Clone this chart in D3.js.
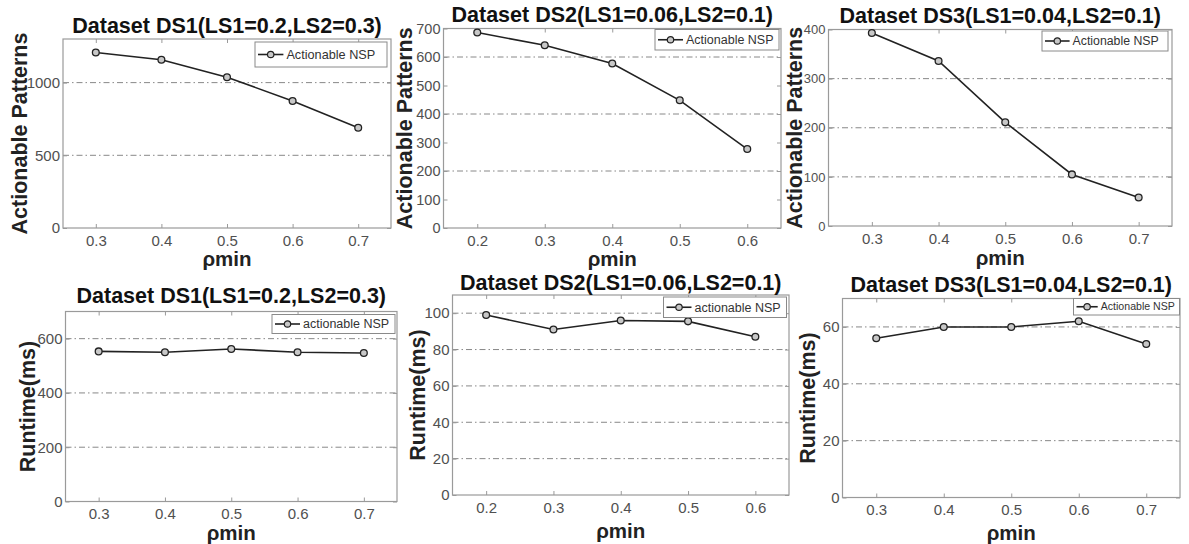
<!DOCTYPE html>
<html>
<head>
<meta charset="utf-8">
<script src="https://cdn.jsdelivr.net/npm/d3@7"></script>
<style>
  body { margin: 0; background: #fff; }
  svg { display: block; font-family: "Liberation Sans", Arial, sans-serif; }
</style>
</head>
<body>
<svg id="chart" width="1189" height="544"></svg>
<script>
// rho_min values on the x axis
const rhoDS1 = [0.3, 0.4, 0.5, 0.6, 0.7];
const rhoDS2 = [0.2, 0.3, 0.4, 0.5, 0.6];
const rhoDS3 = [0.3, 0.4, 0.5, 0.6, 0.7];

// number of actionable patterns (top row)
const patternsDS1 = [1207, 1157, 1037, 874, 690];
const patternsDS2 = [686, 641, 577, 448, 277];
const patternsDS3 = [393, 336, 211, 105, 58];

// runtime in ms (bottom row)
const runtimeDS1 = [553, 550, 562, 550, 547];
const runtimeDS2 = [99, 91, 96, 95.5, 87];
const runtimeDS3 = [56, 60, 60, 62, 54];

// axis ticks and grid lines
const yTicksPat1 = [0, 500, 1000];
const yTicksPat2 = [0, 100, 200, 300, 400, 500, 600, 700];
const yTicksPat3 = [0, 100, 200, 300, 400];
const yTicksRun1 = [0, 200, 400, 600];
const yTicksRun2 = [0, 20, 40, 60, 80, 100];
const yTicksRun3 = [0, 20, 40, 60];
const gridPat1 = [500, 1000];
const gridPat2 = [200, 400, 600];
const gridPat3 = [100, 200, 300];
const gridRun1 = [200, 400, 600];
const gridRun2 = [20, 40, 60, 80, 100];
const gridRun3 = [20, 40, 60];

const titles = [
  'Dataset DS1(LS1=0.2,LS2=0.3)',
  'Dataset DS2(LS1=0.06,LS2=0.1)',
  'Dataset DS3(LS1=0.04,LS2=0.1)'
];
const legendTop = ['Actionable NSP', 'Actionable NSP', 'Actionable NSP'];
const legendBottom = ['actionable NSP', 'actionable NSP', 'Actionable NSP'];

const panels = [
  { x: rhoDS1, y: patternsDS1, ticks: yTicksPat1, grid: gridPat1, title: titles[0], legend: legendTop[0], ylab: 'Actionable Patterns',
    xd: [0.25, 0.75], yd: [0, 1300], box: [63, 39, 391, 228], titleY: 33, ylabX: 27, xlabY: 266,
    leg: [255, 42, 132, 25], legFont: 12.7, yTickFont: 15 },
  { x: rhoDS2, y: patternsDS2, ticks: yTicksPat2, grid: gridPat2, title: titles[1], legend: legendTop[1], ylab: 'Actionable Patterns',
    xd: [0.15, 0.65], yd: [0, 700], box: [443.5, 28.5, 781, 228], titleY: 22, ylabX: 412, xlabY: 266,
    leg: [655, 29.5, 124, 20.5], legFont: 12.5, yTickFont: 14.5 },
  { x: rhoDS3, y: patternsDS3, ticks: yTicksPat3, grid: gridPat3, title: titles[2], legend: legendTop[2], ylab: 'Actionable Patterns',
    xd: [0.235, 0.75], yd: [0, 400], box: [828.5, 29.5, 1172, 226], titleY: 23, ylabX: 802, xlabY: 265,
    leg: [1042, 31, 126, 20], legFont: 12.3, yTickFont: 13 },
  { x: rhoDS1, y: runtimeDS1, ticks: yTicksRun1, grid: gridRun1, title: titles[0], legend: legendBottom[0], ylab: 'Runtime(ms)',
    xd: [0.25, 0.75], yd: [0, 700], box: [65.5, 311.5, 397, 501.5], titleY: 303, ylabX: 35, xlabY: 540,
    leg: [272, 314.5, 123, 19], legFont: 12.5, yTickFont: 15 },
  { x: rhoDS2, y: runtimeDS2, ticks: yTicksRun2, grid: gridRun2, title: titles[1], legend: legendBottom[1], ylab: 'Runtime(ms)',
    xd: [0.15, 0.65], yd: [0, 110], box: [452.5, 295, 789, 495], titleY: 290, ylabX: 425, xlabY: 538,
    leg: [663.5, 297, 123, 20.5], legFont: 12.5, yTickFont: 15 },
  { x: rhoDS3, y: runtimeDS3, ticks: yTicksRun3, grid: gridRun3, title: titles[2], legend: legendBottom[2], ylab: 'Runtime(ms)',
    xd: [0.25, 0.75], yd: [0, 70], box: [842.5, 298.5, 1180, 497.5], titleY: 291.5, ylabX: 815, xlabY: 540,
    leg: [1073.5, 298.5, 106, 16.5], legFont: 10.6, yTickFont: 15 }
];

const svg = d3.select('#chart');
const axisGray = '#9a9a9a';
const tickColor = '#505050';
const fontFamily = '"Liberation Sans", Arial, sans-serif';

panels.forEach(p => {
  const [x0, y0, x1, y1] = p.box;
  const x = d3.scaleLinear().domain(p.xd).range([x0, x1]);
  const y = d3.scaleLinear().domain(p.yd).range([y1, y0]);
  const g = svg.append('g');

  // grid lines (dash-dot)
  g.selectAll('.grid').data(p.grid).join('line')
    .attr('x1', x0).attr('x2', x1)
    .attr('y1', d => y(d)).attr('y2', d => y(d))
    .attr('stroke', '#7a7a7a').attr('stroke-width', 0.9)
    .attr('stroke-dasharray', '6,3,1.5,3');

  // axes
  const xAxis = d3.axisBottom(x).tickValues(p.x).tickSize(-4).tickPadding(7).tickFormat(d3.format('.1f'));
  const xAxisTop = d3.axisTop(x).tickValues(p.x).tickSize(-4).tickFormat('');
  const yAxis = d3.axisLeft(y).tickValues(p.ticks).tickSize(-4).tickPadding(3).tickFormat(d3.format('d'));
  const yAxisRight = d3.axisRight(y).tickValues(p.ticks).tickSize(-4).tickFormat('');

  const styleAxis = size => sel => {
    sel.attr('font-family', fontFamily).attr('font-size', size);
    sel.select('.domain').remove();
    sel.selectAll('.tick line').attr('stroke', axisGray);
    sel.selectAll('.tick text').attr('fill', tickColor).style('font-size', size + 'px');
  };
  g.append('g').attr('transform', `translate(0,${y1})`).call(xAxis).call(styleAxis(15));
  g.append('g').attr('transform', `translate(0,${y0})`).call(xAxisTop).call(styleAxis(15));
  g.append('g').attr('transform', `translate(${x0},0)`).call(yAxis).call(styleAxis(p.yTickFont));
  g.append('g').attr('transform', `translate(${x1},0)`).call(yAxisRight).call(styleAxis(15));
  g.append('rect')
    .attr('x', x0).attr('y', y0).attr('width', x1 - x0).attr('height', y1 - y0)
    .attr('fill', 'none').attr('stroke', axisGray).attr('stroke-width', 1.2);

  // series
  const pts = p.x.map((v, i) => [v, p.y[i]]);
  g.append('path').datum(pts)
    .attr('d', d3.line().x(d => x(d[0])).y(d => y(d[1])))
    .attr('fill', 'none').attr('stroke', '#222').attr('stroke-width', 1.6);
  g.selectAll('.pt').data(pts).join('circle')
    .attr('cx', d => x(d[0])).attr('cy', d => y(d[1])).attr('r', 3.4)
    .attr('fill', '#c8c8c8').attr('stroke', '#222').attr('stroke-width', 1.3);

  // title
  g.append('text')
    .attr('x', (x0 + x1) / 2).attr('y', p.titleY)
    .attr('text-anchor', 'middle').attr('font-weight', 'bold').attr('font-size', '21.5px')
    .attr('fill', '#111').text(p.title);

  // y label
  g.append('text')
    .attr('transform', `translate(${p.ylabX},${(y0 + y1) / 2}) rotate(-90)`)
    .attr('text-anchor', 'middle').attr('font-weight', 'bold').attr('font-size', '21.5px')
    .attr('fill', '#222').text(p.ylab);

  // x label
  g.append('text')
    .attr('x', (x0 + x1) / 2).attr('y', p.xlabY)
    .attr('text-anchor', 'middle').attr('font-weight', 'bold').attr('font-size', '20.5px')
    .attr('fill', '#222').text('ρmin');

  // legend
  const [lx, ly, lw, lh] = p.leg;
  const lg = g.append('g').attr('transform', `translate(${lx},${ly})`);
  lg.append('rect').attr('width', lw).attr('height', lh)
    .attr('fill', '#fff').attr('stroke', '#8a8a8a').attr('stroke-width', 1);
  const sampleW = p.legFont * 2;
  lg.append('line').attr('x1', 3).attr('x2', 3 + sampleW).attr('y1', lh / 2).attr('y2', lh / 2)
    .attr('stroke', '#222').attr('stroke-width', 1.6);
  lg.append('circle').attr('cx', 3 + sampleW / 2).attr('cy', lh / 2).attr('r', 3.2)
    .attr('fill', '#c8c8c8').attr('stroke', '#222').attr('stroke-width', 1.2);
  lg.append('text').attr('x', 6 + sampleW).attr('y', lh / 2).attr('dy', '0.35em')
    .attr('font-size', p.legFont + 'px').attr('fill', '#333').text(p.legend);
});
</script>
</body>
</html>
